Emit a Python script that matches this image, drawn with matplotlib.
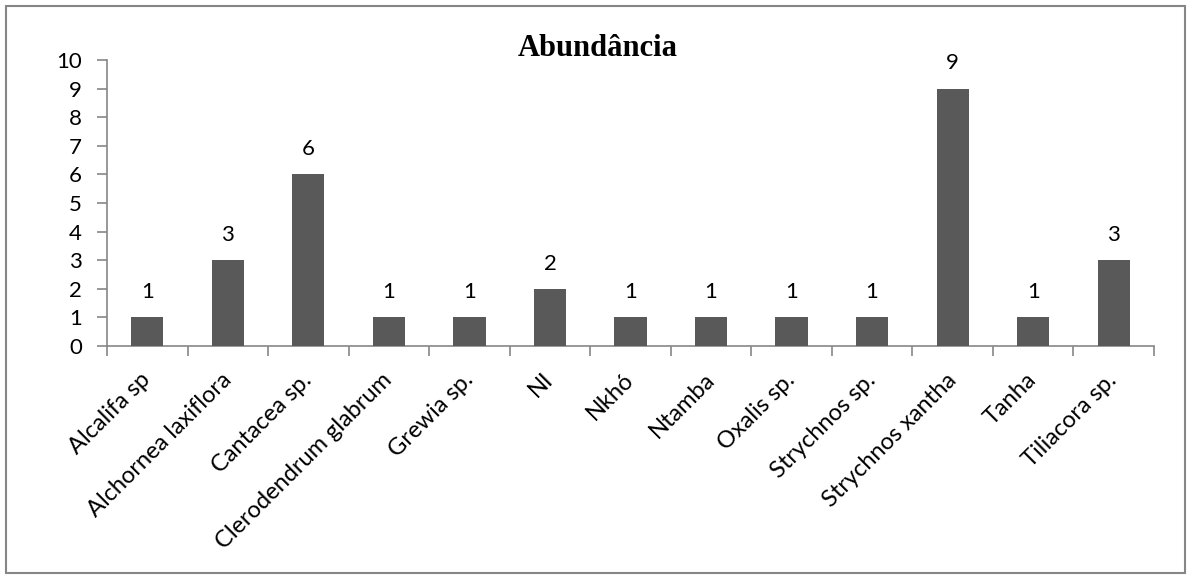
import matplotlib
matplotlib.use("Agg")
import matplotlib.pyplot as plt
from matplotlib.patches import Rectangle

categories = ["Alcalifa sp", "Alchornea laxiflora", "Cantacea sp.", "Clerodendrum glabrum",
              "Grewia sp.", "NI", "Nkhó", "Ntamba", "Oxalis sp.", "Strychnos sp.",
              "Strychnos xantha", "Tanha", "Tiliacora sp."]
values = [1, 3, 6, 1, 1, 2, 1, 1, 1, 1, 9, 1, 3]
yticks = list(range(0, 11))
title = "Abundância"

plt.rcParams['font.family'] = ['Lato', 'DejaVu Sans']

fig = plt.figure(figsize=(11.92, 5.79), dpi=100)
ax = fig.add_axes([107/1192, 1-346/579, (1154-107)/1192, (346-60)/579])

x = list(range(len(categories)))
bars = ax.bar(x, values, width=0.4, color='#595959', zorder=3)
for xi, v in zip(x, values):
    ax.annotate(str(v), (xi, v), xytext=(0, 11), textcoords='offset points',
                ha='center', va='bottom', fontsize=16)

ax.set_xlim(-0.5, len(categories)-0.5)
ax.set_ylim(0, 10)
ax.set_yticks(yticks)
ax.set_yticklabels([str(t) for t in yticks], fontsize=16)
ax.set_xticks(x)
ax.set_xticklabels(categories, rotation=45, ha='right', va='center',
                   rotation_mode='anchor', fontsize=17)
ax.tick_params(axis='x', length=0, pad=22)
ax.set_xticks([i-0.5 for i in range(len(categories)+1)], minor=True)
ax.tick_params(axis='x', which='minor', length=7, color='#868686', width=1.2)
ax.tick_params(axis='y', length=7, color='#868686', width=1.2, pad=11)

for s in ['top', 'right']:
    ax.spines[s].set_visible(False)
for s in ['left', 'bottom']:
    ax.spines[s].set_color('#868686')
    ax.spines[s].set_linewidth(1.2)

fig.text(598/1192, 1-48/579, title, ha='center', va='center', fontsize=22,
         fontweight='bold', family='Liberation Serif')

fig.patches.append(Rectangle((6/1192, 6/579), 1179/1192, 567/579, transform=fig.transFigure,
                             fill=False, edgecolor='#868686', linewidth=1.5))

fig.savefig('out.png', dpi=100)
